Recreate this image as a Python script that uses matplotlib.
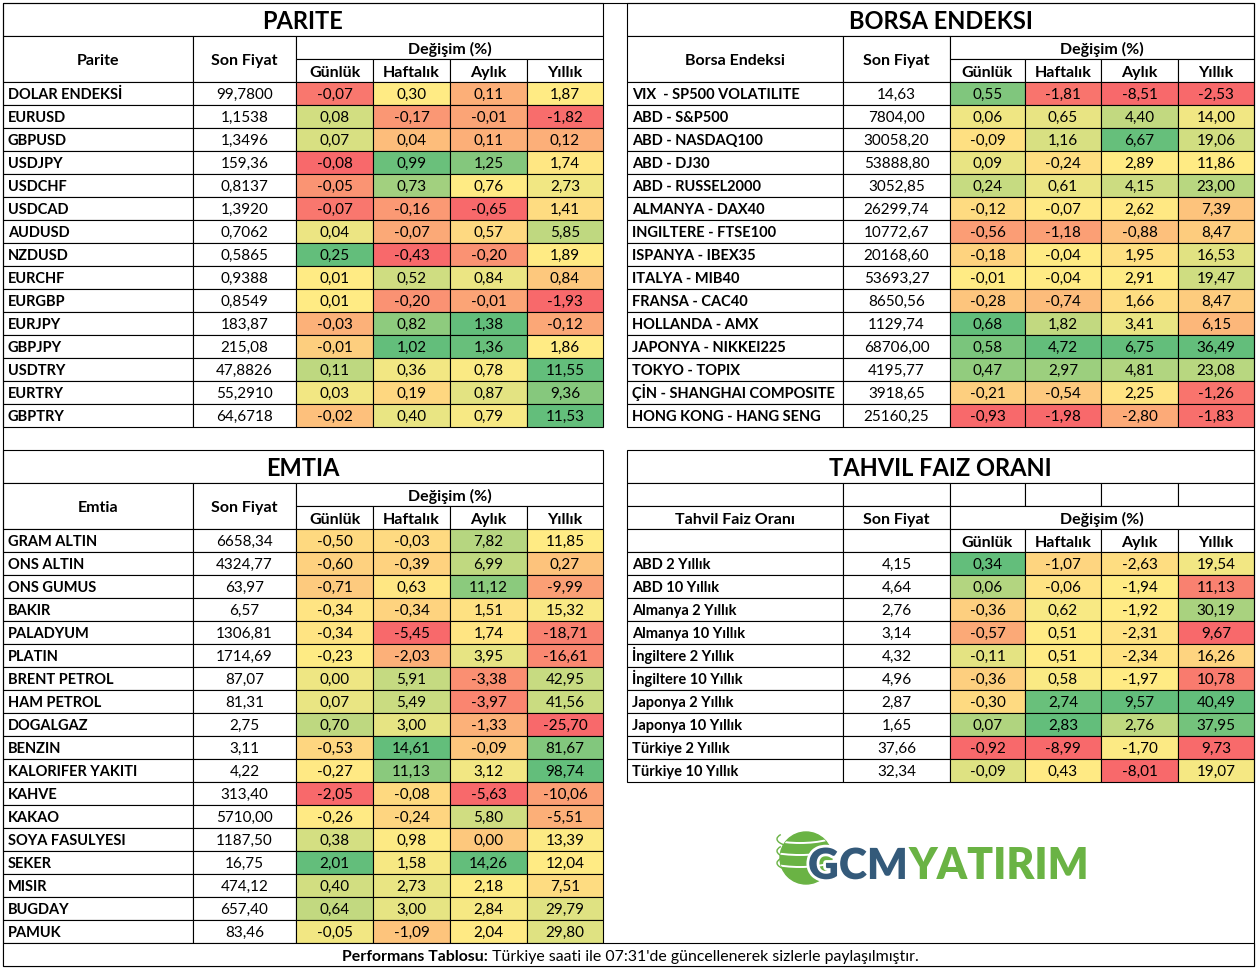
import matplotlib
matplotlib.use('Agg')
import matplotlib.pyplot as plt
import numpy as np
from matplotlib.patches import Rectangle, Circle, Arc
from matplotlib import patheffects

plt.rcParams['font.family'] = ['Lato', 'DejaVu Sans']

periods = ['Günlük', 'Haftalık', 'Aylık', 'Yıllık']

# PARITE
parite_names = ['DOLAR ENDEKSİ', 'EURUSD', 'GBPUSD', 'USDJPY', 'USDCHF', 'USDCAD', 'AUDUSD', 'NZDUSD',
                'EURCHF', 'EURGBP', 'EURJPY', 'GBPJPY', 'USDTRY', 'EURTRY', 'GBPTRY']
parite_son = ['99,7800', '1,1538', '1,3496', '159,36', '0,8137', '1,3920', '0,7062', '0,5865',
              '0,9388', '0,8549', '183,87', '215,08', '47,8826', '55,2910', '64,6718']
parite_gunluk = [-0.07, 0.08, 0.07, -0.08, -0.05, -0.07, 0.04, 0.25, 0.01, 0.01, -0.03, -0.01, 0.11, 0.03, -0.02]
parite_haftalik = [0.30, -0.17, 0.04, 0.99, 0.73, -0.16, -0.07, -0.43, 0.52, -0.20, 0.82, 1.02, 0.36, 0.19, 0.40]
parite_aylik = [0.11, -0.01, 0.11, 1.25, 0.76, -0.65, 0.57, -0.20, 0.84, -0.01, 1.38, 1.36, 0.78, 0.87, 0.79]
parite_yillik = [1.87, -1.82, 0.12, 1.74, 2.73, 1.41, 5.85, 1.89, 0.84, -1.93, -0.12, 1.86, 11.55, 9.36, 11.53]

# BORSA ENDEKSI
borsa_names = ['VIX  - SP500 VOLATILITE', 'ABD - S&P500', 'ABD - NASDAQ100', 'ABD - DJ30', 'ABD - RUSSEL2000',
               'ALMANYA - DAX40', 'INGILTERE - FTSE100', 'ISPANYA - IBEX35', 'ITALYA - MIB40', 'FRANSA - CAC40',
               'HOLLANDA - AMX', 'JAPONYA - NIKKEI225', 'TOKYO - TOPIX', 'ÇİN - SHANGHAI COMPOSITE',
               'HONG KONG - HANG SENG']
borsa_son = ['14,63', '7804,00', '30058,20', '53888,80', '3052,85', '26299,74', '10772,67', '20168,60',
             '53693,27', '8650,56', '1129,74', '68706,00', '4195,77', '3918,65', '25160,25']
borsa_gunluk = [0.55, 0.06, -0.09, 0.09, 0.24, -0.12, -0.56, -0.18, -0.01, -0.28, 0.68, 0.58, 0.47, -0.21, -0.93]
borsa_haftalik = [-1.81, 0.65, 1.16, -0.24, 0.61, -0.07, -1.18, -0.04, -0.04, -0.74, 1.82, 4.72, 2.97, -0.54, -1.98]
borsa_aylik = [-8.51, 4.40, 6.67, 2.89, 4.15, 2.62, -0.88, 1.95, 2.91, 1.66, 3.41, 6.75, 4.81, 2.25, -2.80]
borsa_yillik = [-2.53, 14.00, 19.06, 11.86, 23.00, 7.39, 8.47, 16.53, 19.47, 8.47, 6.15, 36.49, 23.08, -1.26, -1.83]

# EMTIA
emtia_names = ['GRAM ALTIN', 'ONS ALTIN', 'ONS GUMUS', 'BAKIR', 'PALADYUM', 'PLATIN', 'BRENT PETROL',
               'HAM PETROL', 'DOGALGAZ', 'BENZIN', 'KALORIFER YAKITI', 'KAHVE', 'KAKAO', 'SOYA FASULYESI',
               'SEKER', 'MISIR', 'BUGDAY', 'PAMUK']
emtia_son = ['6658,34', '4324,77', '63,97', '6,57', '1306,81', '1714,69', '87,07', '81,31', '2,75',
             '3,11', '4,22', '313,40', '5710,00', '1187,50', '16,75', '474,12', '657,40', '83,46']
emtia_gunluk = [-0.50, -0.60, -0.71, -0.34, -0.34, -0.23, 0.00, 0.07, 0.70, -0.53, -0.27, -2.05, -0.26,
                0.38, 2.01, 0.40, 0.64, -0.05]
emtia_haftalik = [-0.03, -0.39, 0.63, -0.34, -5.45, -2.03, 5.91, 5.49, 3.00, 14.61, 11.13, -0.08, -0.24,
                  0.98, 1.58, 2.73, 3.00, -1.09]
emtia_aylik = [7.82, 6.99, 11.12, 1.51, 1.74, 3.95, -3.38, -3.97, -1.33, -0.09, 3.12, -5.63, 5.80,
               0.00, 14.26, 2.18, 2.84, 2.04]
emtia_yillik = [11.85, 0.27, -9.99, 15.32, -18.71, -16.61, 42.95, 41.56, -25.70, 81.67, 98.74, -10.06,
                -5.51, 13.39, 12.04, 7.51, 29.79, 29.80]

# TAHVIL FAIZ ORANI
tahvil_names = ['ABD 2 Yıllık', 'ABD 10 Yıllık', 'Almanya 2 Yıllık', 'Almanya 10 Yıllık', 'İngiltere 2 Yıllık',
                'İngiltere 10 Yıllık', 'Japonya 2 Yıllık', 'Japonya 10 Yıllık', 'Türkiye 2 Yıllık',
                'Türkiye 10 Yıllık']
tahvil_son = ['4,15', '4,64', '2,76', '3,14', '4,32', '4,96', '2,87', '1,65', '37,66', '32,34']
tahvil_gunluk = [0.34, 0.06, -0.36, -0.57, -0.11, -0.36, -0.30, 0.07, -0.92, -0.09]
tahvil_haftalik = [-1.07, -0.06, 0.62, 0.51, 0.51, 0.58, 2.74, 2.83, -8.99, 0.43]
tahvil_aylik = [-2.63, -1.94, -1.92, -2.31, -2.34, -1.97, 9.57, 2.76, -1.70, -8.01]
tahvil_yillik = [19.54, 11.13, 30.19, 9.67, 16.26, 10.78, 40.49, 37.95, 9.73, 19.07]

footer_bold = 'Performans Tablosu:'
footer_text = " Türkiye saati ile 07:31'de güncellenerek sizlerle paylaşılmıştır."

# excel style 3 colour scale (min red, median yellow, max green)
RED = np.array([248, 105, 107]) / 255
YEL = np.array([255, 235, 132]) / 255
GRN = np.array([99, 190, 123]) / 255


def scale_colors(vals):
    v = np.asarray(vals, float)
    lo, mid, hi = v.min(), np.percentile(v, 50), v.max()
    out = []
    for x in v:
        if x <= mid:
            t = 0.0 if mid == lo else (x - lo) / (mid - lo)
            out.append(RED + t * (YEL - RED))
        else:
            t = (x - mid) / (hi - mid)
            out.append(YEL + t * (GRN - YEL))
    return out


def fmt(v):
    s = f"{v:.2f}".replace('.', ',')
    return '0,00' if s == '-0,00' else s


W, H = 1257, 968
fig = plt.figure(figsize=(W / 100, H / 100), dpi=100)
ax = fig.add_axes([0, 0, 1, 1])
ax.set_xlim(0, W)
ax.set_ylim(H, 0)
ax.axis('off')

LW = 0.8
BODY = 11
HEAD = 11.5
NAME = 10.5


def cell(x0, x1, y0, y1, color='white'):
    ax.add_patch(Rectangle((x0, y0), x1 - x0, y1 - y0, facecolor=color, edgecolor='black', lw=LW))


def label(x, yc, s, size=BODY, weight='normal', ha='center', **kw):
    # baseline placed so that cap height is centred on yc
    return ax.text(x, yc + 0.53 * size, s, ha=ha, va='baseline', fontsize=size, fontweight=weight, **kw)


LEFT_COLS = [3, 193, 296, 373, 450, 527, 603]
RIGHT_COLS = [627, 843, 950, 1025, 1101, 1178, 1254]


def draw_panel(title, head, names, prices, changes, cols, y0, row_h, tahvil=False):
    c = cols
    cell(c[0], c[-1], y0, y0 + 33)
    label((c[0] + c[-1]) / 2, y0 + 17, title, 17, 'bold')
    y1 = y0 + 33
    if tahvil:
        for i in range(6):
            cell(c[i], c[i + 1], y1, y1 + 23)
        y1 += 23
        cell(c[0], c[1], y1, y1 + 23)
        cell(c[1], c[2], y1, y1 + 23)
        cell(c[2], c[6], y1, y1 + 23)
        label((c[0] + c[1]) / 2, y1 + 11.5, head, HEAD, 'bold')
        label((c[1] + c[2]) / 2, y1 + 11.5, 'Son Fiyat', HEAD, 'bold')
        label((c[2] + c[6]) / 2, y1 + 11.5, 'Değişim (%)', HEAD, 'bold')
        y2 = y1 + 23
        cell(c[0], c[1], y2, y2 + 23)
        cell(c[1], c[2], y2, y2 + 23)
    else:
        cell(c[0], c[1], y1, y1 + 46)
        cell(c[1], c[2], y1, y1 + 46)
        cell(c[2], c[6], y1, y1 + 23)
        label((c[0] + c[1]) / 2, y1 + 23, head, HEAD, 'bold')
        label((c[1] + c[2]) / 2, y1 + 23, 'Son Fiyat', HEAD, 'bold')
        label((c[2] + c[6]) / 2, y1 + 11.5, 'Değişim (%)', HEAD, 'bold')
        y2 = y1 + 23
    for j, p in enumerate(periods):
        cell(c[2 + j], c[3 + j], y2, y2 + 23)
        label((c[2 + j] + c[3 + j]) / 2, y2 + 11.5, p, HEAD, 'bold')
    ys = y2 + 23
    col_colors = [scale_colors(ch) for ch in changes]
    for i, name in enumerate(names):
        r0 = ys + i * row_h
        r1 = r0 + row_h
        rc = (r0 + r1) / 2
        cell(c[0], c[1], r0, r1)
        label(c[0] + 5, rc, name, NAME, 'bold', ha='left')
        cell(c[1], c[2], r0, r1)
        label((c[1] + c[2]) / 2, rc, prices[i])
        for j in range(4):
            cell(c[2 + j], c[3 + j], r0, r1, col_colors[j][i])
            label((c[2 + j] + c[3 + j]) / 2, rc, fmt(changes[j][i]))


draw_panel('PARITE', 'Parite', parite_names, parite_son,
           [parite_gunluk, parite_haftalik, parite_aylik, parite_yillik], LEFT_COLS, 3, 23.0)
draw_panel('BORSA ENDEKSI', 'Borsa Endeksi', borsa_names, borsa_son,
           [borsa_gunluk, borsa_haftalik, borsa_aylik, borsa_yillik], RIGHT_COLS, 3, 23.0)
draw_panel('EMTIA', 'Emtia', emtia_names, emtia_son,
           [emtia_gunluk, emtia_haftalik, emtia_aylik, emtia_yillik], LEFT_COLS, 450, 23.0)
draw_panel('TAHVIL FAIZ ORANI', 'Tahvil Faiz Oranı', tahvil_names, tahvil_son,
           [tahvil_gunluk, tahvil_haftalik, tahvil_aylik, tahvil_yillik], RIGHT_COLS, 450, 23.0, tahvil=True)

# outer frame and footer
ax.add_patch(Rectangle((3, 3), 1251, 963, fill=False, edgecolor='black', lw=LW))
cell(3, 1254, 943, 966)

renderer = fig.canvas.get_renderer()
fb = label(0, 954.5, footer_bold, 11.4, 'bold', ha='left')
ft = label(0, 954.5, footer_text, 11.4, 'normal', ha='left')
wb = fb.get_window_extent(renderer).width
wt = ft.get_window_extent(renderer).width
x_start = 630 - (wb + wt) / 2
fb.set_x(x_start)
ft.set_x(x_start + wb)

# logo
green = '#6ab344'
navy = '#345a7a'
globe = Circle((806, 858), 26, color=green, zorder=3)
ax.add_patch(globe)
for dy, wd in [(-13, 74), (-1, 80), (11, 76)]:
    a = Arc((800, 846 + dy), wd, 20, theta1=0, theta2=180, color='white', lw=1.4, zorder=4)
    ax.add_patch(a)
    a.set_clip_path(globe)
for dy in [-9, 3, 15]:
    ax.add_patch(Arc((806, 848 + dy), 58, 18, theta1=120, theta2=190, color=green, lw=1.0, zorder=3))

tg = ax.text(808, 879, 'GCM', fontsize=30, fontweight='heavy', color=navy, ha='left', va='baseline', zorder=5,
             path_effects=[patheffects.withStroke(linewidth=4, foreground='white')])
ty = ax.text(900, 879, 'YATIRIM', fontsize=30, fontweight='heavy', color=green, ha='left', va='baseline', zorder=5)
w1 = tg.get_window_extent(renderer).width
w2 = ty.get_window_extent(renderer).width
sc = 280 / (w1 + w2)
tg.set_fontsize(30 * sc)
ty.set_fontsize(30 * sc)
w1 = tg.get_window_extent(renderer).width
ty.set_x(808 + w1 + 1)

fig.savefig('out.png', dpi=100, facecolor='white')
